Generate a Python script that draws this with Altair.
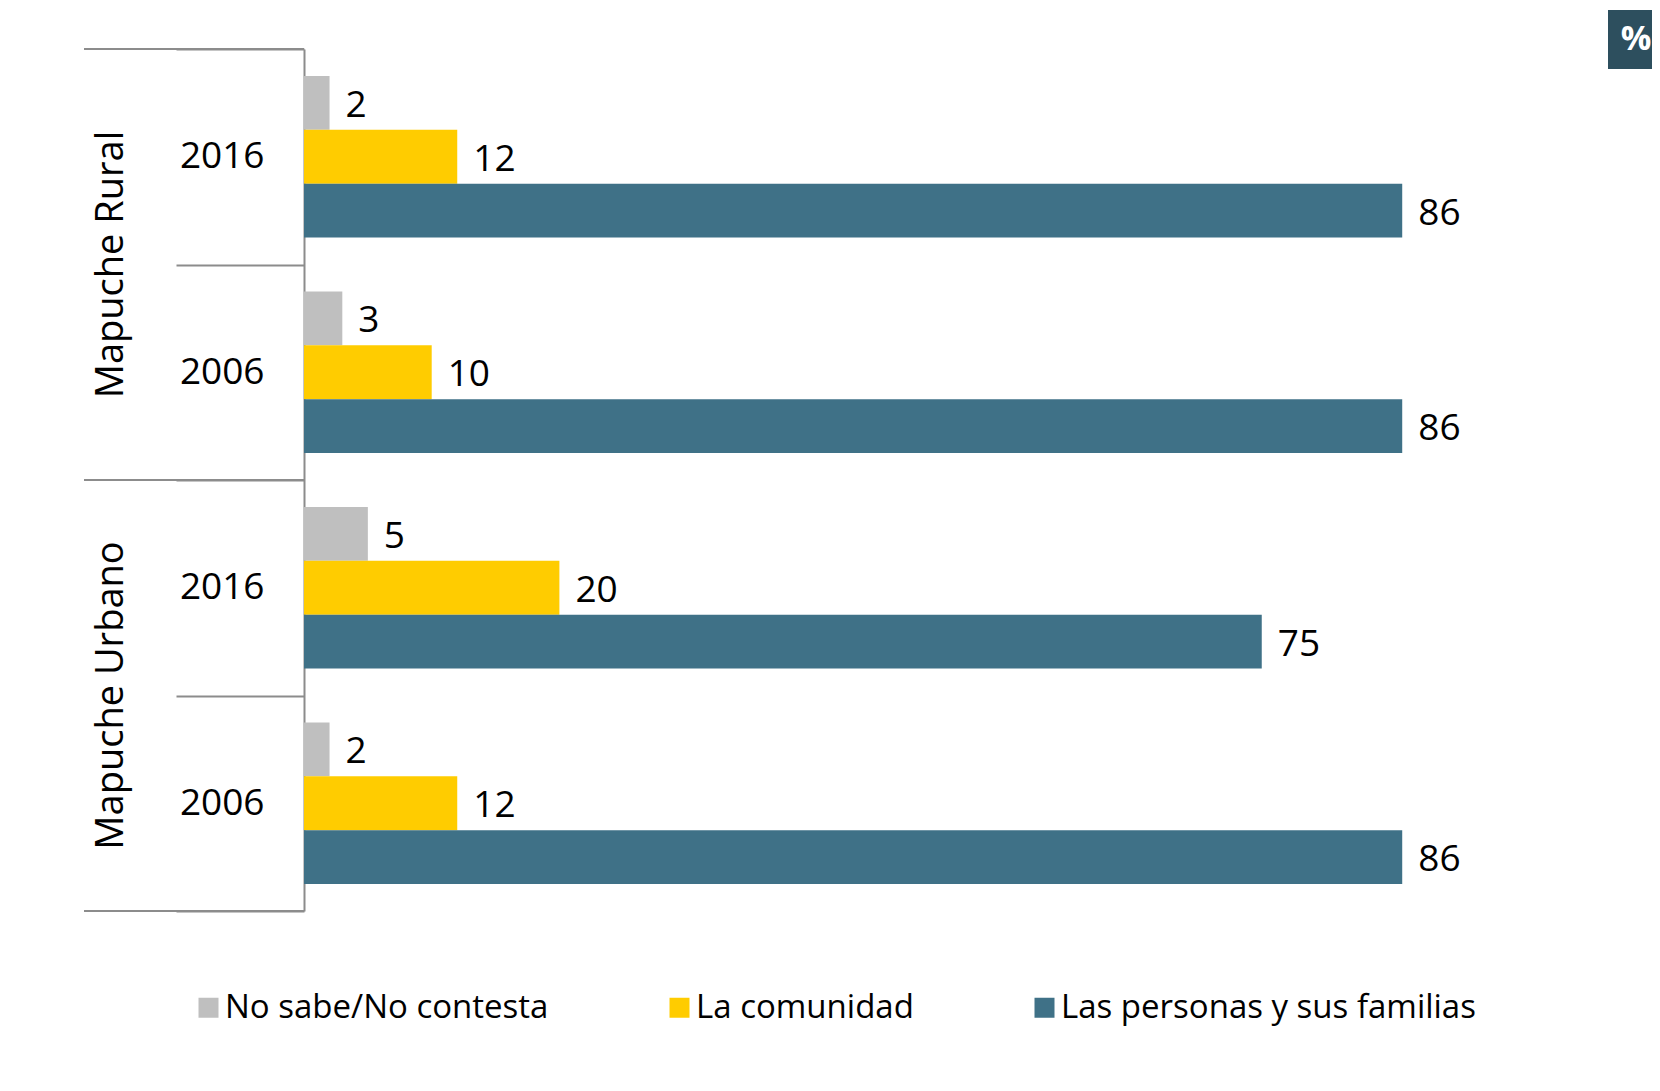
import altair as alt
import pandas as pd

groups = ["Mapuche Rural", "Mapuche Rural", "Mapuche Urbano", "Mapuche Urbano"]
years = ["2016", "2006", "2016", "2006"]
no_sabe = [2, 3, 5, 2]
comunidad = [12, 10, 20, 12]
personas = [86, 86, 75, 86]
series = ["No sabe/No contesta", "La comunidad", "Las personas y sus familias"]
colors = ["#BFBFBF", "#FFCC00", "#3F7187"]

keys = [g + " " + y for g, y in zip(groups, years)]
rows = []
for k, a, b, c in zip(keys, no_sabe, comunidad, personas):
    for s, v in zip(series, [a, b, c]):
        rows.append({"key": k, "serie": s, "valor": v})
df = pd.DataFrame(rows)

FONT = "Open Sans"
GRAY = "#8C8C8C"

yscale = alt.Scale(domain=keys, paddingInner=0, paddingOuter=0)
yoff = alt.YOffset("serie:N", sort=series, scale=alt.Scale(domain=series, paddingInner=0, paddingOuter=0.5))
xscale = alt.Scale(domain=[0, 100])

bars = alt.Chart(df).mark_bar().encode(
    x=alt.X("valor:Q", scale=xscale, axis=None),
    y=alt.Y("key:N", scale=yscale, sort=keys, title=None,
            axis=alt.Axis(labelExpr="split(datum.label, ' ')[2]", tickBand="extent",
                          tickSize=128, tickWidth=2, tickColor=GRAY, domainColor=GRAY,
                          domainWidth=2, labelPadding=-88, labelFontSize=37,
                          labelColor="black", labelFont=FONT, grid=False)),
    yOffset=yoff,
    color=alt.Color("serie:N", sort=series,
                    scale=alt.Scale(domain=series, range=colors),
                    legend=alt.Legend(title=None, orient="none", legendX=-112, legendY=942,
                                      direction="horizontal", symbolType="square",
                                      symbolSize=400, symbolStrokeWidth=0,
                                      labelFontSize=33, labelFont=FONT, labelColor="black",
                                      labelOffset=0, columnPadding=114, labelLimit=600)),
)

labels = alt.Chart(df).mark_text(align="left", baseline="middle", dx=16, dy=3, fontSize=37,
                                 font=FONT, color="black").encode(
    x=alt.X("valor:Q", scale=xscale),
    y=alt.Y("key:N", scale=yscale, sort=keys),
    yOffset=yoff,
    text=alt.Text("valor:Q"),
)

grp_df = pd.DataFrame({"key": [keys[0], keys[2]], "grupo": [groups[0], groups[2]]})
grp_text = alt.Chart(grp_df).mark_text(angle=270, align="center", baseline="middle",
                                       fontSize=38, font=FONT, color="black").encode(
    y=alt.Y("key:N", scale=yscale, sort=keys, bandPosition=1),
    x=alt.value(-192),
    text="grupo:N",
)

top_df = pd.DataFrame({"key": [keys[0], keys[2]]})
rules_top = alt.Chart(top_df).mark_rule(color=GRAY, strokeWidth=2).encode(
    y=alt.Y("key:N", scale=yscale, sort=keys, bandPosition=0),
    x=alt.value(-220), x2=alt.value(0),
)
bot_df = pd.DataFrame({"key": [keys[3]]})
rules_bot = alt.Chart(bot_df).mark_rule(color=GRAY, strokeWidth=2).encode(
    y=alt.Y("key:N", scale=yscale, sort=keys, bandPosition=1),
    x=alt.value(-220), x2=alt.value(0),
)

badge_df = pd.DataFrame({"t": ["%"]})
badge = alt.Chart(badge_df).mark_rect(color="#2D4F5E").encode(
    x=alt.value(1304), x2=alt.value(1380), y=alt.value(-39), y2=alt.value(20),
)
badge_txt = alt.Chart(badge_df).mark_text(color="white", fontSize=34, fontWeight="bold",
                                          font=FONT, align="center", baseline="middle").encode(
    x=alt.value(1332), y=alt.value(-9), text="t:N",
)

chart = alt.layer(rules_top, rules_bot, bars, labels, grp_text, badge, badge_txt).properties(
    width=1277, height=862,
    autosize=alt.AutoSizeParams(type="none"),
    padding={"left": 296, "top": 41, "right": 71, "bottom": 164},
).configure(background="white").configure_view(stroke=None, strokeWidth=0)

chart.save("out.html", embed_options={"renderer": "svg", "actions": False})
